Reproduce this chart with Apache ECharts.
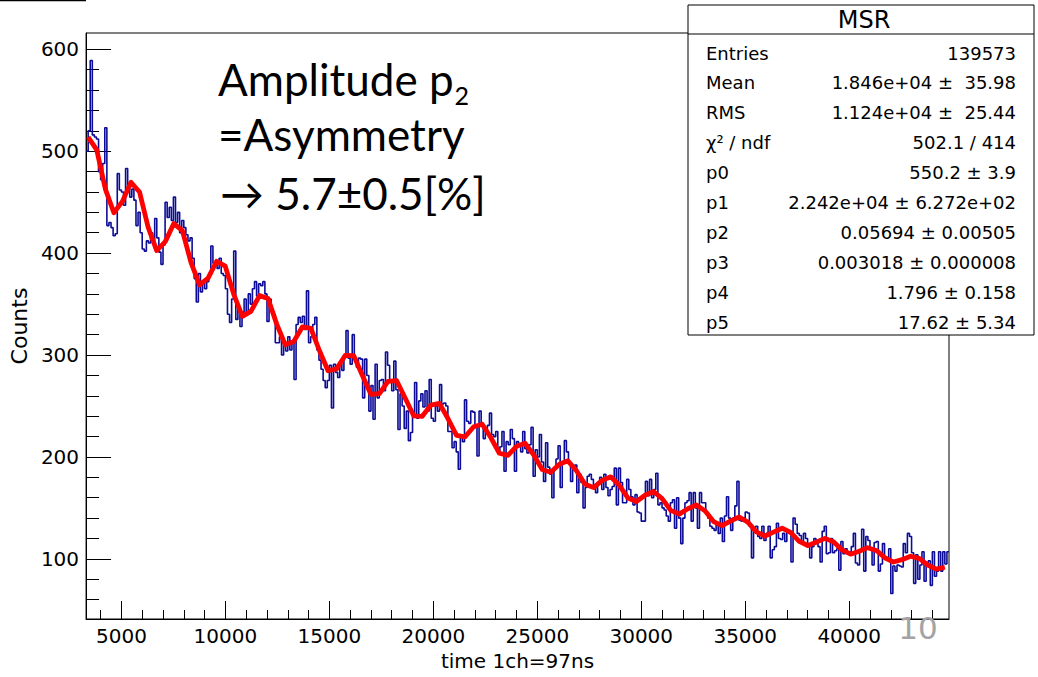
<!DOCTYPE html>
<html>
<head>
<meta charset="utf-8">
<script src="https://cdn.jsdelivr.net/npm/echarts@6/dist/echarts.min.js"></script>
<style>
html,body{margin:0;padding:0;background:#fff;}
#chart{width:1038px;height:677px;}
</style>
</head>
<body>
<div id="chart"></div>
<script>
// ---- data ----
const BIN_LO = 3300;      // lower edge of first bin
const BIN_WIDTH = 100;    // bin width
const COUNTS = [
500,520,589,516,514,512,480,472,488,523,
427,430,425,417,419,478,462,460,447,483,
465,455,463,452,427,440,420,404,402,412,
410,420,412,434,415,401,389,408,450,435,
445,432,455,430,440,420,432,425,418,412,
415,395,375,352,380,362,372,365,372,380,
407,390,392,385,395,380,378,365,340,332,
355,402,335,345,328,342,355,340,360,350,
365,372,358,370,
368,372,360,333,355,345,340,312,312,318,
300,310,304,318,305,312,276,330,337,332,
338,325,363,312,318,330,337,305,295,286,
275,268,275,290,248,291,283,278,291,285,
300,324,297,291,320,297,288,297,296,258,
296,280,245,270,237,291,258,275,276,265,
303,290,275,265,294,266,227,262,250,228,
245,216,224,240,273,238,255,262,249,265,
245,
276,238,235,250,245,271,252,253,250,225,
225,209,215,205,188,220,215,256,235,233,
245,244,230,201,245,230,218,226,231,243,
222,220,225,205,210,225,186,215,212,227,
218,186,215,212,205,225,208,204,212,229,
181,207,200,222,195,176,214,190,183,160,
189,198,211,170,195,216,205,195,176,188,
192,165,183,175,150,170,181,183,178,170,
165,175,180,
168,183,170,162,168,171,189,153,189,175,
155,155,178,168,161,153,163,146,145,137,
137,176,162,178,160,168,184,153,155,150,
148,142,137,155,158,130,160,140,115,140,
155,157,165,137,165,150,130,165,155,155,
145,140,132,130,128,135,125,140,117,142,
161,140,128,140,152,176,138,137,140,146,
145,132,101,130,132,122,120,132,118,125,
132,
101,109,112,135,120,119,125,117,128,125,
97,140,134,125,123,115,125,120,113,101,
112,120,118,112,97,127,132,105,106,120,
106,108,110,89,117,105,110,105,107,112,
125,96,94,107,129,88,122,118,110,94,
116,117,88,95,115,100,101,110,66,93,
88,94,93,92,115,106,125,122,106,76,
104,80,94,107,78,93,98,74,107,83,
88,107,88,107,95,107
];

const FIT_T0 = 3400;   // first point of fit curve
const FIT_DT = 412;    // spacing of fit curve points
const FIT_VALUES = [
513.9,501.4,463.1,439.6,450.8,469.5,460.0,425.4,402.5,411.3,
429.0,422.0,391.0,368.8,375.4,392.0,387.2,359.5,338.0,342.9,
358.3,355.4,330.6,310.1,313.3,327.6,326.2,304.2,284.6,286.4,
299.6,299.4,280.1,261.5,262.1,274.1,275.0,257.9,240.4,239.9,
250.9,252.6,237.7,221.2,219.8,229.7,232.1,219.1,203.6,201.6,
210.4,213.4,202.1,187.7,185.0,192.9,196.2,186.5,173.1,170.0,
177.0,180.5,172.2,159.8,156.3,162.4,166.1,159.1,147.6,143.9,
149.2,153.0,147.1,136.6,132.6,137.3,141.1,136.1,126.5,122.4,
126.3,130.1,126.0,117.2,113.1,116.4,120.1,116.8,108.8,104.6,
107.4,111.0,108.3,101.1,96.9,99.2,102.6,100.5,94.0,89.9,
91.8
];

const X_MIN = 3300, X_MAX = 44800;
const Y_MIN = 41, Y_MAX = 616;
const X_TICKS = [5000,10000,15000,20000,25000,30000,35000,40000];
const X_MINOR = [4000,6000,7000,8000,9000,11000,12000,13000,14000,16000,17000,18000,19000,21000,22000,23000,24000,26000,27000,28000,29000,31000,32000,33000,34000,36000,37000,38000,39000,41000,42000,43000,44000];
const Y_TICKS = [100,200,300,400,500,600];
const Y_MINOR = [60,80,120,140,160,180,220,240,260,280,320,340,360,380,420,440,460,480,520,540,560,580];

const STATS_TITLE = 'MSR';
const STATS_NAMES = ['Entries','Mean','RMS','\u03c7\u00b2 / ndf','p0','p1','p2','p3','p4','p5'];
const STATS_VALUES = ['139573','1.846e+04 \u00b1\u00a0 35.98','1.124e+04 \u00b1\u00a0 25.44','502.1 / 414','550.2 \u00b1 3.9','2.242e+04 \u00b1 6.272e+02','0.05694 \u00b1 0.00505','0.003018 \u00b1 0.000008','1.796 \u00b1 0.158','17.62 \u00b1 5.34'];

const X_TITLE = 'time 1ch=97ns';
const Y_TITLE = 'Counts';
const NOTE_LINE1 = 'Amplitude p';
const NOTE_SUB = '2';
const NOTE_LINE2 = '=Asymmetry';
const NOTE_LINE3 = '\u2192 5.7\u00b10.5[%]';
const PAGE_NO = '10';

// ---- build ----
const histData = COUNTS.map((v, i) => [BIN_LO + i * BIN_WIDTH, v]);
histData.push([BIN_LO + COUNTS.length * BIN_WIDTH, COUNTS[COUNTS.length - 1]]);
const fitData = FIT_VALUES.map((v, k) => [FIT_T0 + k * FIT_DT, v]);

const ROOT_FONT = '"DejaVu Sans", "Liberation Sans", sans-serif';
const NOTE_FONT = 'Lato, "Open Sans", sans-serif';

// measure width of first note line to place subscript
const mc = document.createElement('canvas').getContext('2d');
mc.font = '44px Lato';
const noteW = mc.measureText(NOTE_LINE1).width;

const chart = echarts.init(document.getElementById('chart'), null, {renderer: 'svg'});

const statsEls = [];
const BOX = {x: 688, y: 5, w: 346, h: 330};
statsEls.push({type: 'rect', shape: {x: BOX.x, y: BOX.y, width: BOX.w, height: BOX.h},
  style: {fill: '#fff', stroke: '#000', lineWidth: 1}, z: 100});
statsEls.push({type: 'line', shape: {x1: BOX.x, y1: 34, x2: BOX.x + BOX.w, y2: 34},
  style: {stroke: '#000', lineWidth: 1}, z: 101});
statsEls.push({type: 'text', x: BOX.x + BOX.w / 2 + 3, y: 20, z: 101,
  style: {text: STATS_TITLE, font: '24px ' + ROOT_FONT, fill: '#000', align: 'center', verticalAlign: 'middle'}});
STATS_NAMES.forEach((n, i) => {
  const yy = 53 + i * 29.9;
  statsEls.push({type: 'text', x: 706, y: yy, z: 101,
    style: {text: n, font: '18px ' + ROOT_FONT, fill: '#000', align: 'left', verticalAlign: 'middle'}});
  statsEls.push({type: 'text', x: 1016, y: yy, z: 101,
    style: {text: STATS_VALUES[i], font: '18px ' + ROOT_FONT, fill: '#000', align: 'right', verticalAlign: 'middle'}});
});

const plain = v => String(v);

const option = {
  animation: false,
  backgroundColor: '#fff',
  grid: {left: 86, top: 33, width: 863, height: 586, show: true, borderColor: '#000', borderWidth: 1, backgroundColor: 'transparent'},
  xAxis: [{
    type: 'value', min: X_MIN, max: X_MAX, position: 'bottom',
    name: X_TITLE, nameLocation: 'middle', nameGap: 30,
    nameTextStyle: {fontFamily: ROOT_FONT, fontSize: 20, color: '#000'},
    axisLine: {show: true, lineStyle: {color: '#000', width: 1}},
    axisTick: {show: true, inside: true, length: 18, customValues: X_TICKS, lineStyle: {color: '#000', width: 1}},
    axisLabel: {show: true, customValues: X_TICKS, formatter: plain, margin: 7, fontFamily: ROOT_FONT, fontSize: 20, color: '#000'},
    splitLine: {show: false}
  }, {
    type: 'value', min: X_MIN, max: X_MAX, position: 'bottom', gridIndex: 0,
    axisLine: {show: false},
    axisTick: {show: true, inside: true, length: 9, customValues: X_MINOR, lineStyle: {color: '#000', width: 1}},
    axisLabel: {show: false},
    splitLine: {show: false}
  }],
  yAxis: [{
    type: 'value', min: Y_MIN, max: Y_MAX, position: 'left',
    name: Y_TITLE, nameLocation: 'middle', nameGap: 51, nameRotate: 90,
    nameTextStyle: {fontFamily: ROOT_FONT, fontSize: 22, color: '#000'},
    axisLine: {show: true, lineStyle: {color: '#000', width: 1}},
    axisTick: {show: true, inside: true, length: 25, customValues: Y_TICKS, lineStyle: {color: '#000', width: 1}},
    axisLabel: {show: true, customValues: Y_TICKS, formatter: plain, margin: 7, fontFamily: ROOT_FONT, fontSize: 20, color: '#000'},
    splitLine: {show: false}
  }, {
    type: 'value', min: Y_MIN, max: Y_MAX, position: 'left', offset: 0, gridIndex: 0,
    axisLine: {show: false},
    axisTick: {show: true, inside: true, length: 13, customValues: Y_MINOR, lineStyle: {color: '#000', width: 1}},
    axisLabel: {show: false},
    splitLine: {show: false}
  }],
  series: [{
    type: 'line', name: 'MSR', data: histData, step: 'end', symbol: 'none',
    xAxisIndex: 0, yAxisIndex: 0, clip: true,
    lineStyle: {color: '#0c0c96', width: 1.6}, z: 2
  }, {
    type: 'line', name: 'fit', data: fitData, symbol: 'none', smooth: false,
    xAxisIndex: 0, yAxisIndex: 0, clip: true,
    lineStyle: {color: '#ff0000', width: 4.8, join: 'round'}, z: 3
  }],
  graphic: [
    {type: 'line', shape: {x1: 0, y1: 0.5, x2: 86, y2: 0.5}, style: {stroke: '#000', lineWidth: 1.5}, z: 50},
    {type: 'text', x: 218, y: 79, z: 60,
      style: {text: NOTE_LINE1, font: '44px ' + NOTE_FONT, fill: '#000', align: 'left', verticalAlign: 'middle'}},
    {type: 'text', x: 218 + noteW + 1, y: 95, z: 60,
      style: {text: NOTE_SUB, font: '25px ' + NOTE_FONT, fill: '#000', align: 'left', verticalAlign: 'middle'}},
    {type: 'text', x: 218, y: 134, z: 60,
      style: {text: NOTE_LINE2, font: '44px ' + NOTE_FONT, fill: '#000', align: 'left', verticalAlign: 'middle'}},
    {type: 'text', x: 220, y: 193, z: 60,
      style: {text: NOTE_LINE3, font: '44px ' + NOTE_FONT, fill: '#000', align: 'left', verticalAlign: 'middle'}},
    {type: 'text', x: 918, y: 628, z: 60,
      style: {text: PAGE_NO, font: '31px ' + ROOT_FONT, fill: '#a3a3a3', align: 'center', verticalAlign: 'middle'}},
    {type: 'group', children: statsEls, z: 100}
  ]
};
chart.setOption(option);
</script>
</body>
</html>
